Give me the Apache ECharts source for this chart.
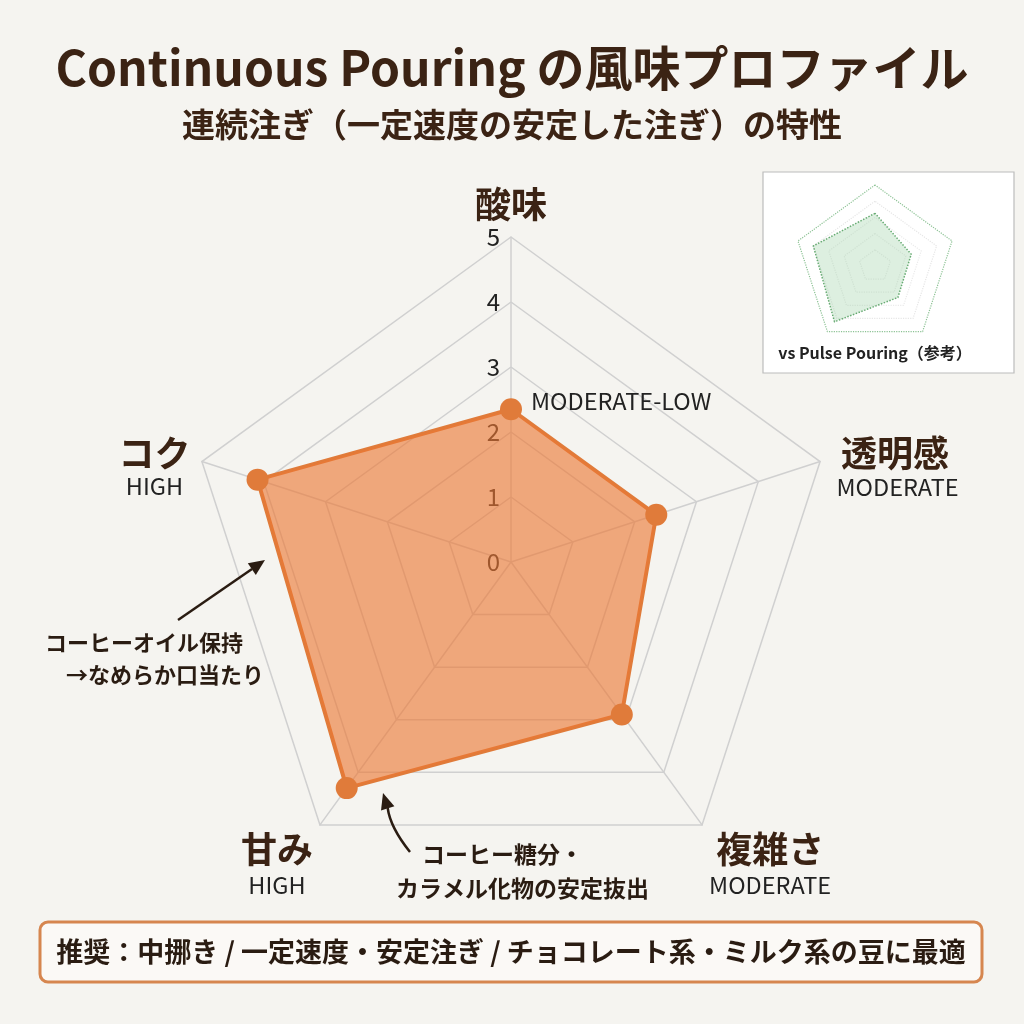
<!DOCTYPE html>
<html>
<head>
<meta charset="utf-8">
<title>Continuous Pouring の風味プロファイル</title>
<script src="https://cdn.jsdelivr.net/npm/echarts@6/dist/echarts.min.js"></script>
<style>
  html, body { margin: 0; padding: 0; background: #f5f4f0; }
  #main { width: 1024px; height: 1024px; }
</style>
</head>
<body>
<div id="main"></div>
<script>
// 軸の並び（ECharts のレーダーは上から反時計回り）
const axisNames = ['酸味', 'コク', '甘み', '複雑さ', '透明感'];
const levelTags = ['MODERATE-LOW', 'HIGH', 'HIGH', 'MODERATE', 'MODERATE'];
const continuousValues = [2.35, 4.1, 4.3, 2.9, 2.35]; // 連続注ぎ
const pulseValues = [3.25, 4.0, 4.25, 2.4, 2.35];     // パルス注ぎ（参考）
const scaleMin = 0;
const scaleMax = 5;
const scaleStep = 1;

const FONT = '"Noto Sans CJK JP", "Noto Sans", sans-serif';
const DARK = '#3b2314';
const INK = '#2a1c12';
const ORANGE = '#e07b3a';

// 軸名の微調整（padding の上側で文字を下げる）
const namePad = [
  { n: [0, 0, 0, 0], s: [0, 0, 0, 0] },
  { n: [19, 0, 0, 0], s: [15, 0, 0, 0] },
  { n: [58, 0, 0, 0], s: [58, 0, 0, 0] },
  { n: [58, 0, 0, 0], s: [58, 0, 0, 0] },
  { n: [18, 0, 0, 0], s: [16, 0, 0, 5] }
];
const rich = {};
axisNames.forEach(function (n, i) {
  rich['n' + i] = {
    fontFamily: FONT, fontSize: 36, fontWeight: 'bold', color: DARK,
    lineHeight: 42, align: 'center', padding: namePad[i].n
  };
  rich['s' + i] = {
    fontFamily: FONT, fontSize: 23.5, color: '#222', lineHeight: 28,
    align: 'center', padding: namePad[i].s
  };
});

let myChart = echarts.init(document.getElementById('main'));
myChart.setOption({
  backgroundColor: '#f5f4f0',
  animation: false,
  radar: [
    {
      center: [511, 562],
      radius: 325,
      startAngle: 90,
      shape: 'polygon',
      splitNumber: 5,
      indicator: axisNames.map(function (n) {
        return { name: n, min: scaleMin, max: scaleMax };
      }),
      nameGap: 12,
      axisName: {
        formatter: function (name) {
          const i = axisNames.indexOf(name);
          if (i === 0) return '{n0|' + name + '}';
          return '{n' + i + '|' + name + '}\n{s' + i + '|' + levelTags[i] + '}';
        },
        rich: rich
      },
      axisLine: { lineStyle: { color: '#d0d0d0', width: 1.5 } },
      splitLine: { lineStyle: { color: '#d0d0d0', width: 1.5 } },
      splitArea: { show: false }
    },
    {
      // 右上の小さい比較図
      center: [875, 266],
      radius: 81,
      startAngle: 90,
      shape: 'polygon',
      splitNumber: 5,
      indicator: axisNames.map(function (n) {
        return { name: n, min: scaleMin, max: scaleMax };
      }),
      axisName: { show: false },
      axisLine: { show: false },
      splitLine: {
        lineStyle: {
          color: ['#ebebeb', '#ebebeb', '#ebebeb', '#ebebeb', '#e6e6e6', '#8cc294'],
          type: 'dotted',
          width: 1.2
        }
      },
      splitArea: { show: false }
    }
  ],
  // 目盛りの数字（酸味軸の左側）
  grid: { left: 511, top: 237, width: 1, height: 325 },
  xAxis: { type: 'value', show: false },
  yAxis: {
    type: 'value',
    min: scaleMin,
    max: scaleMax,
    interval: scaleStep,
    axisLine: { show: false },
    axisTick: { show: false },
    splitLine: { show: false },
    axisLabel: { margin: 11, fontSize: 24, color: '#222', fontFamily: FONT }
  },
  series: [
    {
      name: 'Continuous Pouring',
      type: 'radar',
      radarIndex: 0,
      symbol: 'circle',
      symbolSize: 22,
      itemStyle: { color: ORANGE },
      lineStyle: { color: ORANGE, width: 4 },
      areaStyle: { color: 'rgb(235, 120, 52)', opacity: 0.62 },
      label: {
        show: true,
        position: 'right',
        distance: 9,
        offset: [0, -8],
        fontFamily: FONT,
        fontSize: 23.5,
        color: '#222',
        formatter: function (p) {
          return p.dimensionIndex === 0 ? levelTags[0] : '';
        }
      },
      data: [{ value: continuousValues, name: 'Continuous Pouring' }]
    },
    {
      name: 'Pulse Pouring',
      type: 'radar',
      radarIndex: 1,
      symbol: 'none',
      lineStyle: { color: '#5fa56b', width: 1.5, type: 'dotted' },
      areaStyle: { color: 'rgb(150, 205, 160)', opacity: 0.32 },
      data: [{ value: pulseValues, name: 'Pulse Pouring' }]
    }
  ],
  graphic: [
    {
      type: 'text', z: 10,
      style: {
        text: 'Continuous Pouring の風味プロファイル',
        x: 512, y: 68, textAlign: 'center', verticalAlign: 'middle',
        font: 'bold 48px ' + FONT, fill: DARK
      }
    },
    {
      type: 'text', z: 10,
      style: {
        text: '連続注ぎ（一定速度の安定した注ぎ）の特性',
        x: 512, y: 124, textAlign: 'center', verticalAlign: 'middle',
        font: 'bold 33px ' + FONT, fill: DARK
      }
    },
    // 参考図の枠
    {
      type: 'rect', z: -100,
      shape: { x: 763, y: 172, width: 251, height: 201 },
      style: { fill: '#ffffff', stroke: '#bcbcbc', lineWidth: 1.2 }
    },
    {
      type: 'text', z: 10,
      style: {
        text: 'vs Pulse Pouring（参考）',
        x: 875, y: 353, textAlign: 'center', verticalAlign: 'middle',
        font: 'bold 16px ' + FONT, fill: '#222'
      }
    },
    // 注釈1
    {
      type: 'line', z: 10,
      shape: { x1: 178, y1: 620, x2: 252, y2: 569 },
      style: { stroke: INK, lineWidth: 2.5 }
    },
    {
      type: 'polygon', z: 10,
      shape: { points: [[265, 560], [255.8, 574.9], [247.8, 563.3]] },
      style: { fill: INK }
    },
    {
      type: 'text', z: 10,
      style: {
        text: 'コーヒーオイル保持', x: 45, y: 643, verticalAlign: 'middle',
        font: 'bold 22px ' + FONT, fill: INK
      }
    },
    {
      type: 'text', z: 10,
      style: {
        text: '→なめらか口当たり', x: 66, y: 675, verticalAlign: 'middle',
        font: 'bold 22px ' + FONT, fill: INK
      }
    },
    // 注釈2
    {
      type: 'bezierCurve', z: 10,
      shape: { x1: 410, y1: 852, cpx1: 394, cpy1: 832, cpx2: 389, cpy2: 818, x2: 387.7, y2: 808 },
      style: { stroke: INK, lineWidth: 2.5, fill: null }
    },
    {
      type: 'polygon', z: 10,
      shape: { points: [[383, 793], [394.4, 806.2], [381, 810.4]] },
      style: { fill: INK }
    },
    {
      type: 'text', z: 10,
      style: {
        text: 'コーヒー糖分・', x: 422, y: 854, verticalAlign: 'middle',
        font: 'bold 23px ' + FONT, fill: INK
      }
    },
    {
      type: 'text', z: 10,
      style: {
        text: 'カラメル化物の安定抜出', x: 396, y: 888, verticalAlign: 'middle',
        font: 'bold 23px ' + FONT, fill: INK
      }
    },
    // 推奨バナー
    {
      type: 'rect', z: 10,
      shape: { x: 40, y: 922, width: 942, height: 60, r: 8 },
      style: { fill: '#fbf9f6', stroke: '#d6864f', lineWidth: 3 }
    },
    {
      type: 'text', z: 11,
      style: {
        text: '推奨：中挪き / 一定速度・安定注ぎ / チョコレート系・ミルク系の豆に最適',
        x: 511, y: 952, textAlign: 'center', verticalAlign: 'middle',
        font: 'bold 27px ' + FONT, fill: INK
      }
    }
  ]
});
window.addEventListener('resize', function () {
  myChart.resize();
});
</script>
</body>
</html>
